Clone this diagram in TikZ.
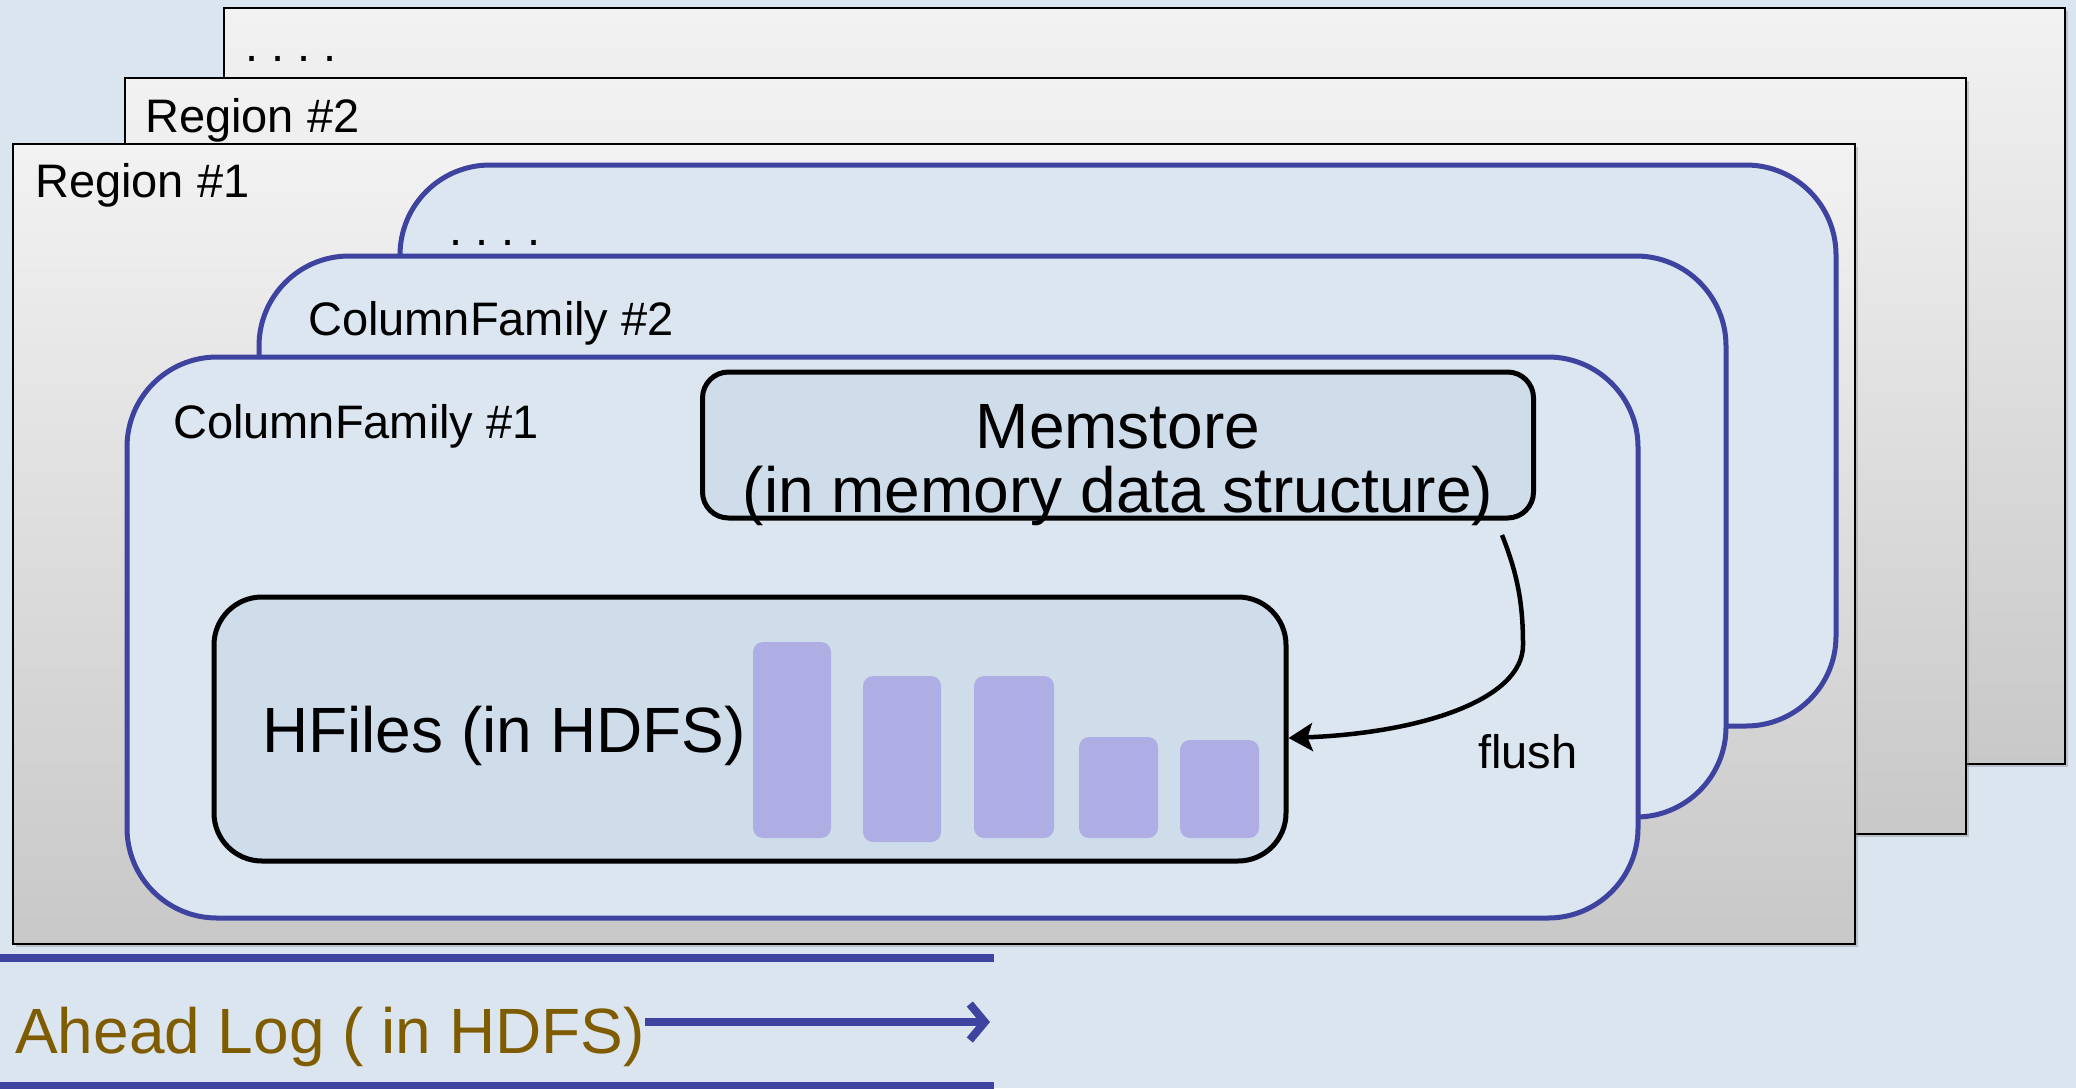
\documentclass[tikz,border=0pt]{standalone}
\usepackage{fontspec}
\setmainfont{Liberation Sans}
\usetikzlibrary{arrows.meta,shadows}
\definecolor{bgc}{RGB}{219,229,239}
\definecolor{cffill}{RGB}{220,230,240}
\definecolor{boxfill}{RGB}{207,220,234}
\definecolor{cfblue}{RGB}{62,67,160}
\definecolor{barc}{RGB}{174,174,228}
\definecolor{walc}{RGB}{127,92,0}
\definecolor{rtop}{RGB}{242,242,242}
\definecolor{rbot}{RGB}{200,200,200}
\tikzset{
  region/.style={draw=black, line width=2pt, top color=rtop, bottom color=rbot,
    drop shadow={opacity=0.35, shadow xshift=3pt, shadow yshift=-3pt}},
  cf/.style={draw=cfblue, line width=5pt, fill=cffill, rounded corners=90pt},
  inbox/.style={draw=black, line width=5pt, fill=boxfill},
  bar/.style={fill=barc, rounded corners=10pt},
  small/.style={font=\frenchspacing\fontsize{47}{47}\selectfont, anchor=base west, inner sep=0pt},
  big/.style={font=\fontsize{64}{64}\selectfont, inner sep=0pt},
  blueline/.style={draw=cfblue, line width=8pt},
}
\begin{document}
\begin{tikzpicture}[x=1pt,y=-1pt]
\fill[bgc] (0,0) rectangle (2076,1088);
\useasboundingbox (0,0) rectangle (2076,1088);
% regions
\path[region] (224,8) rectangle (2065,764);
\node[small] (rdots) at (245,61) {. . . .};
\path[region] (125,78) rectangle (1966,834);
\node[small] (r2) at (145,132) {Region \#2};
\path[region] (13,144) rectangle (1855,944);
\node[small] (r1) at (35,197) {Region \#1};
% column families
\draw[cf] (400,165) rectangle (1836,726);
\node[small] (cfdots) at (449,245) {. . . .};
\draw[cf] (259,256) rectangle (1726,817);
\node[small] (cf2) at (308,335) {ColumnFamily \#2};
\draw[cf] (127,357) rectangle (1638,918);
\node[small] (cf1) at (173,438) {ColumnFamily \#1};
% memstore
\node[inbox, rounded corners=26pt, minimum width=831pt, minimum height=146pt] (mem) at (1118,445) {};
\node[big, anchor=base] (memt1) at (1118,448) {Memstore};
\node[big, anchor=base] (memt2) at (1118,512) {(in memory data structure)};
% hfiles
\node[inbox, rounded corners=48pt, minimum width=1072pt, minimum height=264pt] (hfiles) at (750,729) {};
\node[big, anchor=base west] (hft) at (262,752) {HFiles (in HDFS)};
\fill[bar] (753,642) rectangle (831,838);
\fill[bar] (863,676) rectangle (941,842);
\fill[bar] (974,676) rectangle (1054,838);
\fill[bar] (1079,737) rectangle (1158,838);
\fill[bar] (1180,740) rectangle (1259,838);
% flush arrow
\coordinate (fstart) at (1502,535);
\draw[line width=4.5pt, -{Stealth[length=24pt,width=28pt,inset=5pt]}]
  (fstart) .. controls (1518,575) and (1523,605) .. (1523,645)
  .. controls (1523,700) and (1420,733) .. ([yshift=-9pt]hfiles.east);
\node[small] (flush) at (1478,768) {flush};
% write ahead log
\draw[blueline] (0,958) -- (994,958);
\draw[blueline] (0,1086) -- (994,1086);
\node[big, text=walc, anchor=base west] (wal) at (15,1053) {Ahead Log ( in HDFS)};
\coordinate (walend) at (990,1022);
\draw[cfblue, line width=8pt, -{Straight Barb[length=15pt,width=36pt]}] (wal.east |- walend) -- (walend);
\end{tikzpicture}
\end{document}
